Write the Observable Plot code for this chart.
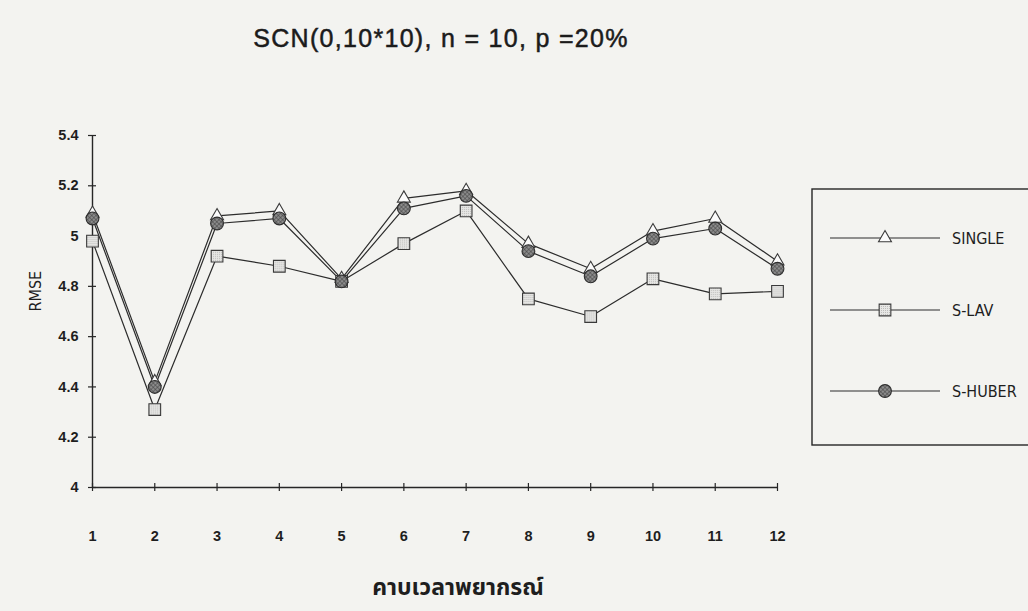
<!DOCTYPE html>
<html>
<head>
<meta charset="utf-8">
<script src="https://cdn.jsdelivr.net/npm/d3@7"></script>
<script src="https://cdn.jsdelivr.net/npm/@observablehq/plot@0.6"></script>
<style>
  body { margin: 0; background: #f3f3f0; overflow: hidden; }
  #wrap { position: relative; width: 1028px; height: 611px; }
  #title {
    position: absolute; left: 0; top: 24px; width: 882px; text-align: center;
    font: 25px "Liberation Sans", Arial, sans-serif; letter-spacing: 1.3px; color: #1b1b1b;
    -webkit-text-stroke: 0.5px #1b1b1b;
  }
  #chart { position: absolute; left: 0; top: 0; }
  #legend { position: absolute; left: 800px; top: 180px; }
</style>
</head>
<body>
<div id="wrap">
  <svg width="0" height="0" style="position:absolute">
    <defs>
      <pattern id="hatch" width="3" height="3" patternUnits="userSpaceOnUse" patternTransform="rotate(45)">
        <rect width="3" height="3" fill="#8c8c8c"></rect>
        <path d="M0,0H3M0,0V3" stroke="#3e3e3e" stroke-width="1"></path>
      </pattern>
      <pattern id="stipple" width="2" height="2" patternUnits="userSpaceOnUse">
        <rect width="2" height="2" fill="#e6e6e4"></rect>
        <rect width="1" height="1" fill="#bdbdbb"></rect>
      </pattern>
    </defs>
  </svg>
  <div id="title">SCN(0,10*10), n = 10, p =20%</div>
  <div id="chart"></div>
  <svg id="legend" width="228" height="280"></svg>
</div>
<script>
// Forecast periods and RMSE of each smoothing method
const periods = [1, 2, 3, 4, 5, 6, 7, 8, 9, 10, 11, 12];
const single  = [5.09, 4.42, 5.08, 5.10, 4.83, 5.15, 5.18, 4.97, 4.87, 5.02, 5.07, 4.90];
const sLav    = [4.98, 4.31, 4.92, 4.88, 4.82, 4.97, 5.10, 4.75, 4.68, 4.83, 4.77, 4.78];
const sHuber  = [5.07, 4.40, 5.05, 5.07, 4.82, 5.11, 5.16, 4.94, 4.84, 4.99, 5.03, 4.87];
const seriesNames = ["SINGLE", "S-LAV", "S-HUBER"];
const yTicks = [4, 4.2, 4.4, 4.6, 4.8, 5, 5.2, 5.4];
const yTickLabels = ["4", "4.2", "4.4", "4.6", "4.8", "5", "5.2", "5.4"];
const yLabel = "RMSE";
const xLabel = "คาบเวลาพยากรณ์";

const seriesValues = [single, sLav, sHuber];
const table = seriesNames.flatMap((name, s) =>
  periods.map((p, i) => ({period: p, series: name, value: seriesValues[s][i]})));

// marker look per series
const markerStyle = {
  "SINGLE":  {symbol: "triangle", r: 4.8, fill: "#fbfbfb", stroke: "#3a3a3a"},
  "S-LAV":   {symbol: "square",   r: 6.6, fill: "url(#stipple)", stroke: "#3a3a3a"},
  "S-HUBER": {symbol: "circle",   r: 6.4, fill: "url(#hatch)", stroke: "#2e2e2e"}
};

const ink = "#262626";
const narrow = "'Liberation Sans Narrow', 'DejaVu Sans Condensed', 'Liberation Sans', sans-serif";
const chart = Plot.plot({
  width: 1028,
  height: 611,
  marginLeft: 92,
  marginRight: 251,
  marginTop: 135,
  marginBottom: 124,
  style: {background: "transparent", fontFamily: "'Liberation Sans', Arial, sans-serif", color: ink},
  x: {type: "linear", domain: [periods[0], periods[periods.length - 1]], axis: null},
  y: {domain: [yTicks[0], yTicks[yTicks.length - 1]], axis: null},
  marks: [
    // axis lines
    Plot.ruleY([yTicks[0]], {stroke: ink, strokeWidth: 1.4}),
    Plot.ruleX([periods[0]], {stroke: ink, strokeWidth: 1.4}),
    // tick marks crossing the axes
    Plot.ruleX(periods, {x: d => d, y1: yTicks[0], y2: yTicks[0], insetTop: 4, insetBottom: 4, stroke: ink, strokeWidth: 1.2}),
    Plot.ruleY(yTicks, {y: d => d, x1: periods[0], x2: periods[0], insetLeft: 4, insetRight: 4, stroke: ink, strokeWidth: 1.2}),
    // tick labels
    Plot.axisY(yTicks, {tickSize: 0, tickPadding: 14, tickFormat: (d, i) => yTickLabels[i], label: null,
      fontSize: 14.5, fontWeight: "bold", fill: "#1e1e1e"}),
    Plot.axisX(periods, {tickSize: 0, tickPadding: 43, label: null,
      fontSize: 14.5, fontWeight: "bold", fill: "#1e1e1e"}),
    // axis titles
    Plot.text([yLabel], {frameAnchor: "left", dx: -57, rotate: -90, fontSize: 16,
      fontFamily: narrow, fill: "#1e1e1e"}),
    Plot.text([xLabel], {frameAnchor: "bottom", dx: 23, dy: 107, fontSize: 23, fontWeight: "bold",
      fontFamily: "'Noto Sans Thai', 'Noto Sans', 'DejaVu Sans', sans-serif", fill: "#1e1e1e"}),
    // series lines
    Plot.line(table, {x: "period", y: "value", z: "series", stroke: "#2c2c2c", strokeWidth: 1.2}),
    // series markers, drawn in legend order
    ...seriesNames.map(name => Plot.dot(table.filter(d => d.series === name), {
      x: "period", y: "value", ...markerStyle[name], strokeWidth: 1.1
    }))
  ]
});
document.getElementById("chart").appendChild(chart);

// legend box
const lg = d3.select("#legend");
lg.append("rect")
  .attr("x", 12).attr("y", 9).attr("width", 260).attr("height", 256)
  .attr("fill", "none").attr("stroke", ink).attr("stroke-width", 1.4);
const rowY = [58, 130, 211];
seriesNames.forEach((name, i) => {
  const st = markerStyle[name];
  const g = lg.append("g").attr("transform", `translate(0,${rowY[i]})`);
  g.append("line").attr("x1", 30).attr("x2", 140).attr("stroke", "#2c2c2c").attr("stroke-width", 1.2);
  const sym = {triangle: d3.symbolTriangle, square: d3.symbolSquare, circle: d3.symbolCircle}[st.symbol];
  g.append("path")
    .attr("transform", "translate(85,0)")
    .attr("d", d3.symbol(sym, Math.PI * st.r * st.r)())
    .attr("fill", st.fill).attr("stroke", st.stroke).attr("stroke-width", 1.1);
  g.append("text")
    .attr("x", 152).attr("dy", "0.35em")
    .attr("font-family", narrow)
    .attr("font-size", 16).attr("fill", "#1e1e1e")
    .text(name);
});
</script>
</body>
</html>
